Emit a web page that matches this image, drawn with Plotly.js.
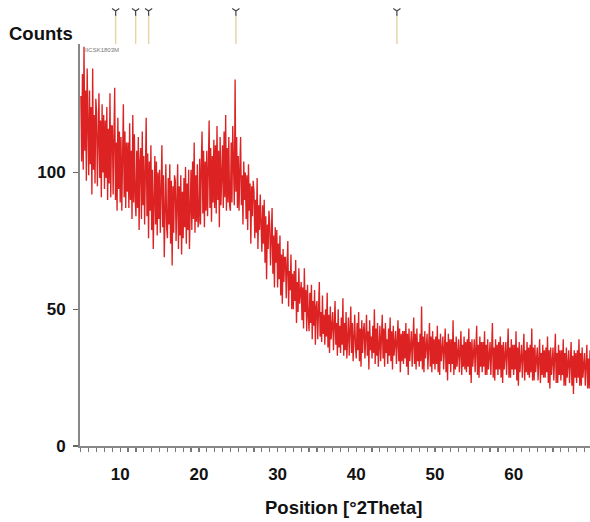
<!DOCTYPE html>
<html>
<head>
<meta charset="utf-8">
<script src="https://cdn.plot.ly/plotly-3.0.1.min.js"></script>
<style>
html,body{margin:0;padding:0;background:#fff;}
#chart{width:590px;height:522px;}
</style>
</head>
<body>
<div id="chart"></div>
<script>
// Measurement grid
const startAngle = 5.0;
const stepAngle = 0.1;

// Counts, one row per degree (10 points each)
const counts = [
  128,104,136,101,146,108,130,97,138,112,   // 5
  99,130,103,124,92,138,101,121,96,127,     // 6
  122,95,117,129,98,119,91,125,100,121,     // 7
  94,119,98,124,90,116,96,129,91,117,       // 8
  117,92,113,131,90,111,86,120,94,115,      // 9
  89,113,86,108,125,91,115,87,111,93,       // 10
  111,87,118,90,108,83,121,89,114,91,       // 11
  84,108,87,113,79,104,109,83,115,88,       // 12
  106,81,102,120,84,107,76,104,86,110,      // 13
  79,101,72,99,106,81,104,77,100,83,        // 14
  101,78,97,110,80,99,69,96,103,80,         // 15
  76,98,81,103,74,97,66,95,78,99,           // 16
  97,75,94,103,72,95,77,99,70,93,           // 17
  76,98,80,102,74,96,79,101,72,96,          // 18
  101,79,104,83,111,78,99,82,103,80,        // 19
  82,105,81,102,115,85,108,80,104,86,       // 20
  108,84,104,119,87,109,82,106,89,112,      // 21
  87,110,85,117,90,108,80,113,88,106,       // 22
  110,87,115,91,121,86,109,89,113,88,       // 23
  86,111,89,117,97,88,134,93,113,87,        // 24
  106,86,101,113,88,99,81,104,90,100,       // 25
  83,99,79,103,86,96,74,95,84,97,           // 26
  93,76,90,78,98,72,88,79,92,75,            // 27
  71,88,74,90,67,84,61,81,72,86,            // 28
  81,66,78,87,63,77,58,80,67,79,            // 29
  58,74,61,77,55,70,52,72,60,69,            // 30
  69,54,66,75,51,64,57,70,50,63,            // 31
  50,64,53,68,45,60,49,65,52,59,            // 32
  60,46,58,43,65,49,57,42,59,48,            // 33
  42,56,45,59,39,53,44,57,37,51,            // 34
  53,39,50,60,40,49,38,55,41,48,            // 35
  37,50,40,56,36,48,34,51,39,46,            // 36
  49,35,46,53,37,45,33,50,36,44,            // 37
  34,47,37,54,33,45,35,49,32,43,            // 38
  47,33,44,51,34,45,31,44,48,36,            // 39
  32,45,35,49,31,43,29,46,34,42,            // 40
  45,32,43,48,33,42,28,46,35,40,            // 41
  32,44,34,50,30,43,33,45,29,41,            // 42
  44,31,41,48,32,43,29,45,34,39,            // 43
  30,43,33,47,31,42,28,44,33,40,            // 44
  42,30,40,46,31,43,27,41,31,42,            // 45
  30,42,32,45,29,41,26,43,31,39,            // 46
  42,29,39,47,30,41,28,43,31,38,            // 47
  29,41,31,51,28,40,27,42,32,38,            // 48
  41,28,38,45,29,40,27,42,30,39,            // 49
  28,40,30,44,27,39,26,41,31,37,            // 50
  40,28,38,43,27,38,24,41,30,39,            // 51
  27,39,30,46,26,38,28,40,29,37,            // 52
  39,27,37,42,26,37,29,40,28,38,            // 53
  27,39,29,43,26,38,23,39,29,37,            // 54
  39,27,37,44,26,37,25,40,29,38,            // 55
  27,38,29,42,26,37,26,39,28,37,            // 56
  38,26,36,45,25,36,24,39,28,37,            // 57
  26,38,28,40,25,37,23,38,28,36,            // 58
  38,26,36,43,25,36,25,39,28,37,            // 59
  26,37,28,42,24,36,22,38,27,36,            // 60
  37,25,35,41,24,35,27,38,26,36,            // 61
  25,37,27,43,24,36,24,37,27,35,            // 62
  36,24,34,39,23,34,26,37,25,35,            // 63
  25,36,27,40,23,35,21,36,26,34,            // 64
  36,24,34,41,23,34,23,37,26,35,            // 65
  24,35,26,39,22,34,22,36,25,34,            // 66
  35,23,33,38,22,33,19,35,25,34,            // 67
  23,35,25,39,22,34,22,36,25,33,            // 68
  34,22,32,37,21,32,21,35,24,33             // 69
];

// Reference pattern peak positions (°2Theta)
const refPeaks = [9.42, 11.96, 13.61, 24.70, 45.16];

// Axis ticks
const xLabelVals = [10, 20, 30, 40, 50, 60];
const yTickVals = [0, 50, 100];

const angles = counts.map((_, i) => +(startAngle + i * stepAngle).toFixed(2));

// One tick per degree, labels only at the tens
const xTickVals = [], xTickText = [];
for (let d = 5; d <= 69; d++) {
  xTickVals.push(d);
  xTickText.push(xLabelVals.includes(d) ? String(d) : '');
}

// Reference stick lines in the top strip
const stickX = [], stickY = [];
refPeaks.forEach(p => { stickX.push(p, p, null); stickY.push(0, 30, null); });

const fontFam = 'Liberation Sans, Arial, sans-serif';
const xRange = [4.89, 69.7];

const traces = [
  {
    x: angles, y: counts, type: 'scatter', mode: 'lines',
    line: {color: 'rgb(220,34,34)', width: 1.35},
    hoverinfo: 'skip', showlegend: false
  },
  {
    x: stickX, y: stickY, type: 'scatter', mode: 'lines', yaxis: 'y2',
    line: {color: '#e6d7a6', width: 1.5},
    hoverinfo: 'skip', showlegend: false, cliponaxis: false
  },
  {
    x: refPeaks, y: refPeaks.map(() => 33), type: 'scatter', mode: 'markers', yaxis: 'y2',
    marker: {symbol: 'y-down-open', size: 6, line: {color: '#444', width: 1.2}, color: '#444'},
    hoverinfo: 'skip', showlegend: false, cliponaxis: false
  }
];

const mainTop = 0.9095;

const layout = {
  width: 590, height: 522,
  margin: {l: 80, r: 0, t: 4, b: 76},
  paper_bgcolor: '#fff', plot_bgcolor: '#fff',
  font: {family: fontFam, color: '#111'},
  xaxis: {
    range: xRange, domain: [0, 1],
    tickmode: 'array', tickvals: xTickVals, ticktext: xTickText,
    ticks: 'outside', ticklen: 4, tickwidth: 1.2, tickcolor: '#777',
    ticklabelstandoff: 8,
    showline: true, linecolor: '#888', linewidth: 2,
    showgrid: false, zeroline: false,
    tickfont: {size: 17, family: fontFam, weight: 700, color: '#111'},
    anchor: 'y'
  },
  xaxis2: {
    range: xRange, overlaying: 'x', side: 'top', anchor: 'y',
    showline: true, linecolor: '#111', linewidth: 2,
    ticks: '', showticklabels: false, showgrid: false, zeroline: false
  },
  yaxis: {
    range: [0, 147], domain: [0, mainTop],
    tickvals: yTickVals, ticktext: yTickVals.map(String),
    ticks: 'outside', ticklen: 5, tickwidth: 1.5, tickcolor: '#666',
    ticklabelstandoff: 4,
    showline: true, linecolor: '#888', linewidth: 2,
    showgrid: false, zeroline: false,
    tickfont: {size: 17, family: fontFam, weight: 700, color: '#111'},
    anchor: 'x'
  },
  yaxis2: {
    range: [0, 40], domain: [mainTop, 1], anchor: 'x',
    showline: false, ticks: '', showticklabels: false, showgrid: false, zeroline: false
  },
  annotations: [
    {text: 'Counts', xref: 'paper', yref: 'paper', x: -0.143, y: 0.934,
     xanchor: 'left', yanchor: 'middle', showarrow: false,
     font: {size: 18.5, family: fontFam, weight: 700, color: '#111'}},
    {text: 'Position [°2Theta]', xref: 'paper', yref: 'paper', x: 0.517, y: -0.140,
     xanchor: 'center', yanchor: 'middle', showarrow: false,
     font: {size: 18.5, family: fontFam, weight: 700, color: '#111'}},
    {text: 'IICSK1803M', xref: 'paper', yref: 'paper', x: 0.005, y: mainTop - 0.003,
     xanchor: 'left', yanchor: 'top', showarrow: false,
     font: {size: 6, family: fontFam, color: '#777'}}
  ]
};

Plotly.newPlot('chart', traces, layout, {displayModeBar: false, staticPlot: true});
</script>
</body>
</html>
